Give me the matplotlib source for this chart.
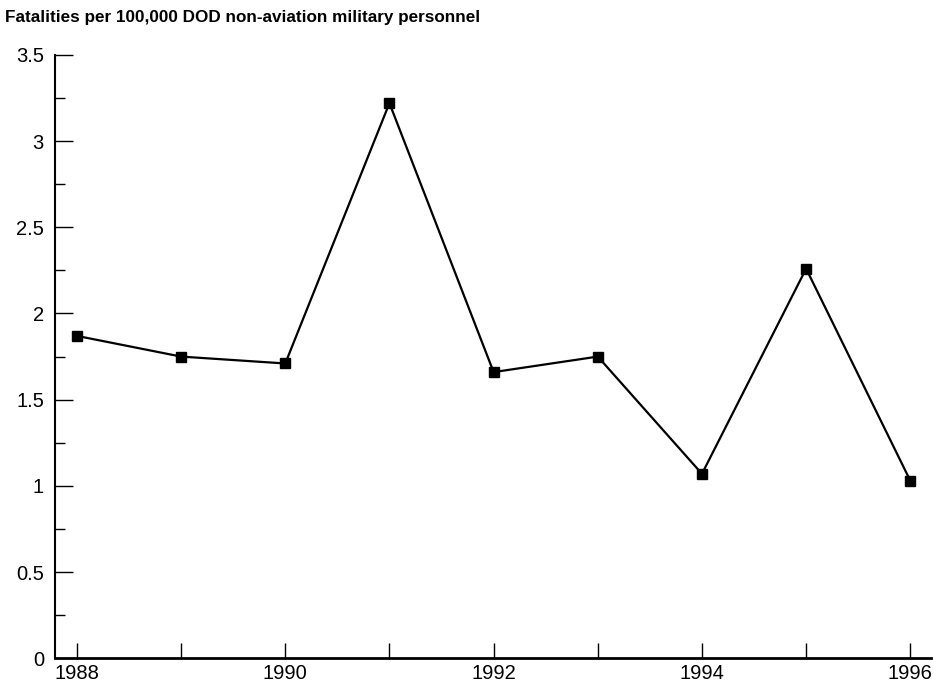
import numpy as np
import matplotlib
matplotlib.use("Agg")
import matplotlib.pyplot as plt
from matplotlib.ticker import MultipleLocator, FormatStrFormatter

plt.rcParams['font.family'] = ['Liberation Sans', 'DejaVu Sans']

years = [1988, 1989, 1990, 1991, 1992, 1993, 1994, 1995, 1996]
rates = [1.87, 1.75, 1.71, 3.22, 1.66, 1.75, 1.07, 2.26, 1.03]
year_labels = [str(y) if y % 2 == 0 else "" for y in years]
title = "Fatalities per 100,000 DOD non-aviation military personnel"

fig = plt.figure(figsize=(9.33, 6.92), dpi=100)
ax = fig.add_axes([0.059, 0.0487, 0.939, 0.872])

ax.plot(years, rates, color="black", lw=1.6, marker="s", markersize=7,
        clip_on=False)

ax.set_xlim(1987.79, 1996.2)
ax.set_ylim(0, 3.5)
ax.set_xticks(years)
ax.set_xticklabels(year_labels)
ax.yaxis.set_major_locator(MultipleLocator(0.5))
ax.yaxis.set_minor_locator(MultipleLocator(0.25))
ax.yaxis.set_major_formatter(FormatStrFormatter("%g"))

ax.tick_params(axis="y", which="major", direction="in", length=13, width=1,
               labelsize=14.5, pad=8)
ax.tick_params(axis="y", which="minor", direction="in", length=7, width=1)
ax.tick_params(axis="x", which="major", direction="in", length=11, width=1,
               labelsize=14.5, pad=4)

for s in ["top", "right"]:
    ax.spines[s].set_visible(False)
ax.spines["left"].set_linewidth(1.5)
ax.spines["bottom"].set_linewidth(2)

fig.text(0.005, 0.975, title, fontsize=12.3, fontweight="bold", ha="left", va="center")

fig.savefig("out.png", dpi=100)
